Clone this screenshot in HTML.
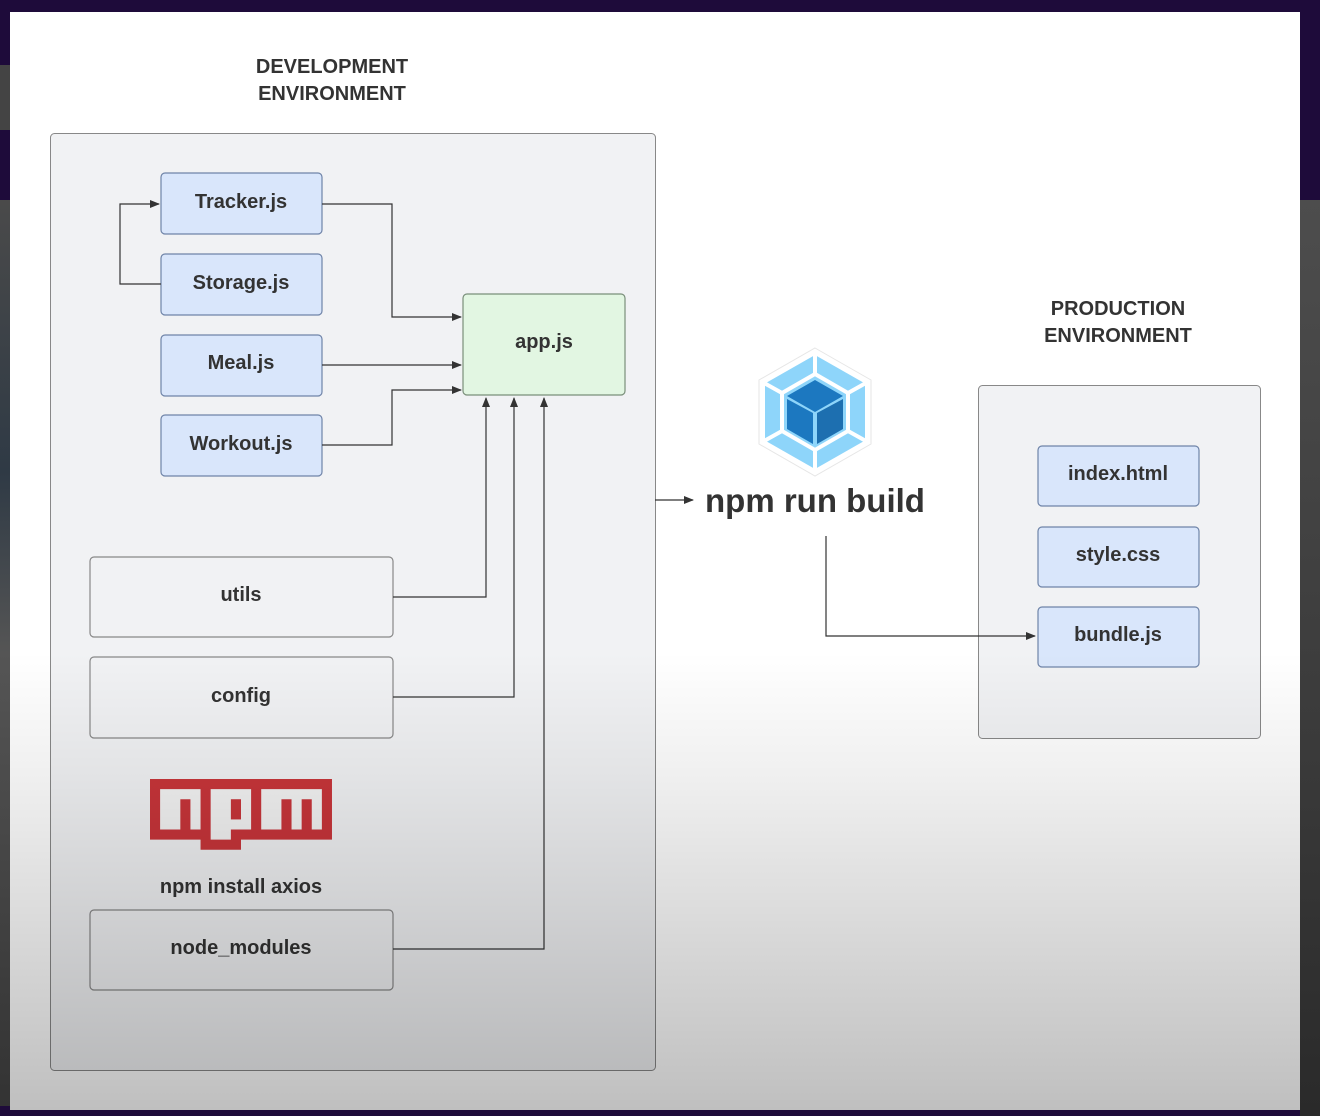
<!DOCTYPE html>
<html><head><style>
body{margin:0;width:1320px;height:1116px;overflow:hidden;background:#1e0b3a;position:relative;font-family:"Liberation Sans",sans-serif}
#right{position:absolute;left:1300px;top:200px;width:20px;height:916px;background:linear-gradient(#4d4d4d,#3a3a3a 60%,#2a2a2a)}
#left{position:absolute;left:0;top:200px;width:10px;height:906px;background:linear-gradient(#4a4a4a,#2f3a45 30%,#555 50%,#333)}
#left2{position:absolute;left:0;top:65px;width:10px;height:65px;background:#444}
#panel{position:absolute;left:10px;top:12px;width:1290px;height:1098px;background:#fff;overflow:hidden}
#shade{position:absolute;left:10px;top:12px;width:1290px;height:1098px;background:linear-gradient(to bottom,rgba(0,0,0,0) 0,rgba(0,0,0,0) 640px,rgba(0,0,0,0.06) 760px,rgba(0,0,0,0.25) 1098px);pointer-events:none}
svg{position:absolute;left:0;top:0}
text{font-family:"Liberation Sans",sans-serif;font-weight:bold;fill:#333}
</style></head><body>
<div id="right"></div>
<div id="left"></div>
<div id="left2"></div>
<div id="panel"></div>
<svg width="1320" height="1116" viewBox="0 0 1320 1116">
<defs><marker id="a" markerWidth="10" markerHeight="8" refX="9" refY="4" orient="auto" markerUnits="userSpaceOnUse"><path d="M0,0L10,4L0,8z" fill="#333"/></marker></defs>
<g font-size="20" text-anchor="middle">
<text x="332" y="73">DEVELOPMENT</text><text x="332" y="100">ENVIRONMENT</text>
<text x="1118" y="315">PRODUCTION</text><text x="1118" y="342">ENVIRONMENT</text>
</g>
<rect x="50.5" y="133.5" width="605" height="937" rx="4" fill="#f1f2f4" stroke="#888"/>
<rect x="978.5" y="385.5" width="282" height="353" rx="4" fill="#f1f2f4" stroke="#888"/>
<g fill="#d9e6fb" stroke="#6f84a8" stroke-width="1.2">
<rect x="161" y="173" width="161" height="61" rx="4"/>
<rect x="161" y="254" width="161" height="61" rx="4"/>
<rect x="161" y="335" width="161" height="61" rx="4"/>
<rect x="161" y="415" width="161" height="61" rx="4"/>
<rect x="1038" y="446" width="161" height="60" rx="4"/>
<rect x="1038" y="527" width="161" height="60" rx="4"/>
<rect x="1038" y="607" width="161" height="60" rx="4"/>
</g>
<rect x="463" y="294" width="162" height="101" rx="4" fill="#e2f6e2" stroke="#7a8f7a" stroke-width="1.2"/>
<g fill="#f1f2f4" stroke="#888" stroke-width="1.2">
<rect x="90" y="557" width="303" height="80" rx="4"/>
<rect x="90" y="657" width="303" height="81" rx="4"/>
<rect x="90" y="910" width="303" height="80" rx="4"/>
</g>
<g font-size="20" text-anchor="middle">
<text x="241" y="208">Tracker.js</text><text x="241" y="289">Storage.js</text>
<text x="241" y="369">Meal.js</text><text x="241" y="450">Workout.js</text>
<text x="544" y="348">app.js</text>
<text x="241" y="601">utils</text><text x="241" y="702">config</text><text x="241" y="954">node_modules</text>
<text x="241" y="893">npm install axios</text>
<text x="1118" y="480">index.html</text><text x="1118" y="561">style.css</text><text x="1118" y="641">bundle.js</text>
</g>
<text x="705" y="512" font-size="33">npm run build</text>
<g fill="none" stroke="#333" stroke-width="1.2" marker-end="url(#a)">
<path d="M322,204H392V317H461"/>
<path d="M161,284H120V204H159"/>
<path d="M322,365H461"/>
<path d="M322,445H392V390H461"/>
<path d="M393,597H486V398"/>
<path d="M393,697H514V398"/>
<path d="M393,949H544V398"/>
<path d="M655,500H693"/>
<path d="M826,536V636H1035"/>
</g>
<g transform="translate(815,412)">
<polygon points="0,-64 56,-32 56,32 0,64 -56,32 -56,-32" fill="#fff" stroke="#e6e6e6"/>
<polygon points="0,-57 50,-28.5 50,28.5 0,57 -50,28.5 -50,-28.5" fill="#8ed5fa"/>
<g stroke="#fff" stroke-width="4" fill="none">
<polygon points="0,-38 33,-19 33,19 0,38 -33,19 -33,-19"/>
<path d="M0,-57V-38M50,-28.5L33,-19M50,28.5L33,19M0,57V38M-50,28.5L-33,19M-50,-28.5L-33,-19"/>
</g>
<polygon points="0,-32 28,-16 0,0 -28,-16" fill="#1c78c0"/>
<polygon points="-28,-13 -2,1 -2,32 -28,17" fill="#1c78c0"/>
<polygon points="28,-13 2,1 2,32 28,17" fill="#1d6fb0"/>
</g>
<g transform="translate(150,779) scale(10.11)">
<path d="M0,0h18v6H9v1H5v-1H0V0z" fill="#c9353a"/>
<path d="M1,1v4h2V2h1v3h1V1H1z M6,1v5h2V5h2V1H6z M11,1v4h2V2h1v3h1V2h1v3h1V1H11z" fill="#f4f4f4"/>
<path d="M8,2h1v2H8V2z" fill="#c9353a"/>
</g>
</svg>
<div id="shade"></div>
</body></html>
